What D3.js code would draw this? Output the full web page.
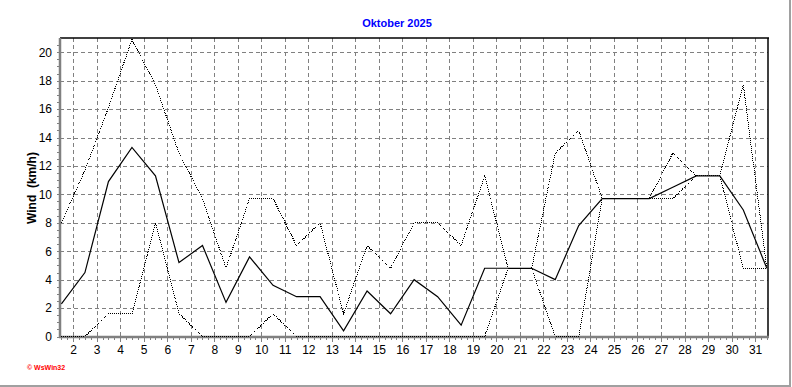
<!DOCTYPE html>
<html>
<head>
<meta charset="utf-8">
<script src="https://cdn.jsdelivr.net/npm/d3@7"></script>
<style>
  body { margin: 0; background: #fff; }
  svg { display: block; }
</style>
</head>
<body>
<svg id="chart" width="792" height="387"></svg>
<script>
// daily wind values for October 2025 (km/h)
var days = d3.range(1, 32);
var meanWind = [2.3, 4.5, 10.9, 13.3, 11.3, 5.2, 6.4, 2.4, 5.6, 3.6, 2.8, 2.8, 0.4, 3.2, 1.6, 4.0,
                2.8, 0.8, 4.8, 4.8, 4.8, 4.0, 7.8, 9.7, 9.7, 9.7, 10.5, 11.3, 11.3, 8.9, 4.8];
var maxWind = [8.0, 11.7, 16.1, 20.9, 17.7, 12.9, 9.7, 4.8, 9.7, 9.7, 6.4, 8.0, 1.6, 6.4, 4.8, 8.0,
               8.0, 6.4, 11.3, 4.8, 4.8, 12.9, 14.5, 9.7, 9.7, 9.7, 12.9, 11.3, 11.3, 17.7, 4.8];
var minWind = [0, 0, 1.6, 1.6, 8.0, 1.6, 0, 0, 0, 1.6, 0, 0, 0, 0, 0, 0,
               0, 0, 0, 4.8, 4.8, 0, 0, 9.7, 9.7, 9.7, 9.7, 11.3, 11.3, 4.8, 4.8];
var xTicks = d3.range(2, 32);
var yTicks = d3.range(0, 21, 2);

var titleText = "Oktober 2025";
var yLabel = "Wind  (km/h)";

//plot box (note: "top" is taken by window.top)
var pLeft = 60, pRight = 768, pTop = 38, pBottom = 337;

var svg = d3.select("#chart");

var x = d3.scaleLinear().domain([1.44, 31.55]).range([pLeft, pRight]);
var y = d3.scaleLinear().domain([0, 21]).range([pBottom - 0.5, pTop]);

// window frame (right / bottom)
svg.append("line").attr("x1", 790).attr("x2", 790).attr("y1", 0).attr("y2", 386)
   .attr("stroke", "#a0a0a0").attr("stroke-width", 2);
svg.append("line").attr("x1", 0).attr("x2", 791).attr("y1", 386).attr("y2", 386)
   .attr("stroke", "#a0a0a0").attr("stroke-width", 2);

// grid
var grid = svg.append("g").attr("stroke", "#808080").attr("stroke-width", 1)
              .attr("stroke-dasharray", "4,3").attr("shape-rendering", "crispEdges");
grid.selectAll("line.v").data(xTicks).enter().append("line")
    .attr("class", "v")
    .attr("x1", function(d) { return Math.round(x(d)) + 0.5; })
    .attr("x2", function(d) { return Math.round(x(d)) + 0.5; })
    .attr("y1", pTop).attr("y2", pBottom);
grid.selectAll("line.h").data(yTicks.filter(function(d) { return d > 0; })).enter().append("line")
    .attr("class", "h")
    .attr("x1", pLeft).attr("x2", pRight)
    .attr("y1", function(d) { return Math.round(y(d)) + 0.5; })
    .attr("y2", function(d) { return Math.round(y(d)) + 0.5; });

// axes with minor ticks
var yAxis = d3.axisLeft(y).tickValues(d3.range(0, 21, 0.5)).tickSize(3).tickFormat("");
var yg = svg.append("g").attr("transform", "translate(" + pLeft + ",0)").call(yAxis);
var xAxis = d3.axisBottom(x).tickValues(d3.range(1.5, 31.6, 0.25)).tickSize(3).tickFormat("");
var xg = svg.append("g").attr("transform", "translate(0," + pBottom + ")").call(xAxis);
var xMajor = d3.axisBottom(x).tickValues(xTicks).tickSize(5).tickPadding(3);
var xmg = svg.append("g").attr("transform", "translate(0," + pBottom + ")").call(xMajor);
var yMajor = d3.axisLeft(y).tickValues(yTicks).tickSize(0).tickPadding(8);
var ymg = svg.append("g").attr("transform", "translate(" + pLeft + ",0)").call(yMajor);
[yg, xg, xmg, ymg].forEach(function(g) {
  g.select(".domain").remove();
  g.selectAll("line").attr("stroke", "#808080").attr("shape-rendering", "crispEdges");
  g.selectAll("text").attr("font-family", "Liberation Sans, Arial, sans-serif")
   .attr("font-size", 12).attr("fill", "#000");
});

// frame of the plot
svg.append("line").attr("x1", pLeft).attr("x2", pRight + 1).attr("y1", pTop).attr("y2", pTop)
   .attr("stroke", "#000").attr("stroke-width", 1.5);
svg.append("line").attr("x1", pRight).attr("x2", pRight).attr("y1", pTop).attr("y2", pBottom)
   .attr("stroke", "#000").attr("stroke-width", 1.5);
svg.append("line").attr("x1", pLeft).attr("x2", pLeft).attr("y1", pTop).attr("y2", pBottom + 1)
   .attr("stroke", "#808080").attr("stroke-width", 2.5);
svg.append("line").attr("x1", pLeft - 1).attr("x2", pRight + 1).attr("y1", pBottom).attr("y2", pBottom)
   .attr("stroke", "#808080").attr("stroke-width", 2.5);

// series
var line = function(vals) {
  return d3.line()
    .x(function(d, i) { return x(days[i] + 0.5); })
    .y(function(d) { return y(d); })(vals);
};
svg.append("path").attr("d", line(maxWind)).attr("fill", "none")
   .attr("stroke", "#000").attr("stroke-width", 1).attr("stroke-dasharray", "1,1")
   .attr("shape-rendering", "crispEdges");
svg.append("path").attr("d", line(minWind)).attr("fill", "none")
   .attr("stroke", "#000").attr("stroke-width", 1).attr("stroke-dasharray", "1,1")
   .attr("shape-rendering", "crispEdges");
svg.append("path").attr("d", line(meanWind)).attr("fill", "none")
   .attr("stroke", "#000").attr("stroke-width", 1.2);

// texts
svg.append("text").attr("x", 397).attr("y", 27).attr("text-anchor", "middle")
   .attr("font-family", "Liberation Sans, Arial, sans-serif").attr("font-size", 11)
   .attr("font-weight", "bold").attr("fill", "#0000ff").text(titleText);

svg.append("text").attr("transform", "translate(36,188) rotate(-90)")
   .attr("text-anchor", "middle")
   .attr("font-family", "Liberation Sans, Arial, sans-serif").attr("font-size", 12)
   .attr("font-weight", "bold").attr("fill", "#000")
   .attr("xml:space", "preserve").style("white-space", "pre").text(yLabel);

svg.append("text").attr("x", 27).attr("y", 370)
   .attr("font-family", "Liberation Sans, Arial, sans-serif").attr("font-size", 7)
   .attr("font-weight", "bold").attr("fill", "#ff0000").text("© WsWin32");
</script>
</body>
</html>
